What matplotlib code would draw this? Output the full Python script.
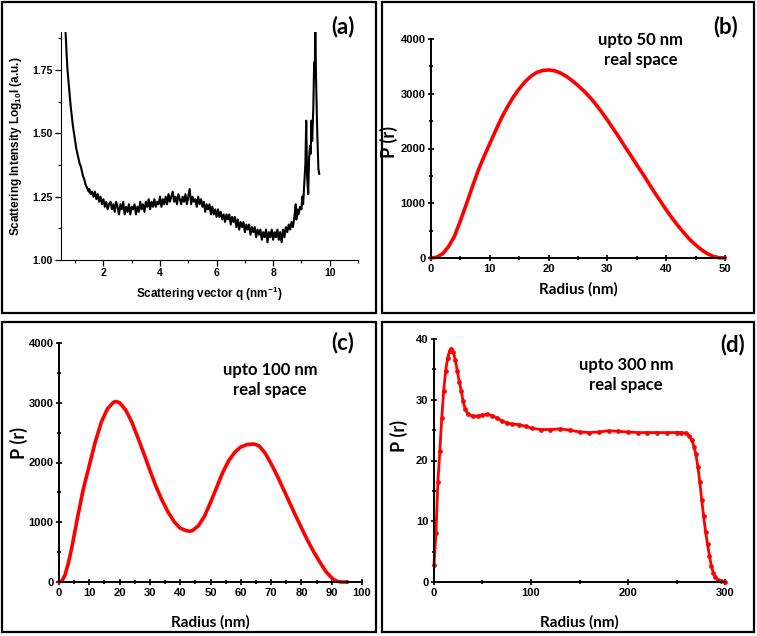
import numpy as np
import matplotlib.pyplot as plt
from matplotlib.patches import Rectangle
from matplotlib.ticker import MultipleLocator

plt.rcParams["mathtext.fontset"] = "custom"
plt.rcParams["mathtext.bf"] = "Liberation Sans:bold"
plt.rcParams["mathtext.rm"] = "Liberation Sans:bold"
plt.rcParams["mathtext.default"] = "bf"

# (a) SAXS profile: q [nm^-1] and log10 I
q_a = [0.66, 0.68, 0.70, 0.73, 0.76, 0.80, 0.84, 0.88, 0.92, 0.96,
       1.00, 1.04, 1.08, 1.12, 1.16, 1.20, 1.24, 1.28, 1.32, 1.36,
       1.40, 1.44, 1.48, 1.50, 1.55, 1.60, 1.65, 1.70, 1.75, 1.80,
       1.85, 1.90, 1.95, 2.00, 2.05, 2.10, 2.15, 2.20, 2.25, 2.30,
       2.35, 2.40, 2.45, 2.50, 2.55, 2.60, 2.65, 2.70, 2.75, 2.80,
       2.85, 2.90, 2.95, 3.00, 3.05, 3.10, 3.15, 3.20, 3.25, 3.30,
       3.35, 3.40, 3.45, 3.50, 3.55, 3.60, 3.65, 3.70, 3.75, 3.80,
       3.85, 3.90, 3.95, 4.00, 4.05, 4.10, 4.15, 4.20, 4.25, 4.30,
       4.35, 4.40, 4.45, 4.50, 4.55, 4.60, 4.65, 4.70, 4.75, 4.80,
       4.85, 4.90, 4.95, 5.00, 5.05, 5.10, 5.15, 5.20, 5.25, 5.30,
       5.35, 5.40, 5.45, 5.50, 5.55, 5.60, 5.65, 5.70, 5.75, 5.80,
       5.85, 5.90, 5.95, 6.00, 6.05, 6.10, 6.15, 6.20, 6.25, 6.30,
       6.35, 6.40, 6.45, 6.50, 6.55, 6.60, 6.65, 6.70, 6.75, 6.80,
       6.85, 6.90, 6.95, 7.00, 7.05, 7.10, 7.15, 7.20, 7.25, 7.30,
       7.35, 7.40, 7.45, 7.50, 7.55, 7.60, 7.65, 7.70, 7.75, 7.80,
       7.85, 7.90, 7.95, 8.00, 8.05, 8.10, 8.15, 8.20, 8.25, 8.30,
       8.35, 8.40, 8.45, 8.50, 8.55, 8.60, 8.65, 8.70, 8.75, 8.80,
       8.82, 8.85, 8.90, 8.95, 9.00, 9.03, 9.06, 9.10, 9.14, 9.17,
       9.20, 9.24, 9.27, 9.30, 9.33, 9.35, 9.38, 9.42, 9.45, 9.47,
       9.49, 9.52, 9.56, 9.60, 9.63]
logI_a = [1.90, 1.86, 1.81, 1.75, 1.71, 1.66, 1.61, 1.57, 1.53, 1.50,
          1.47, 1.44, 1.42, 1.40, 1.38, 1.37, 1.35, 1.33, 1.32, 1.30,
          1.29, 1.28, 1.27, 1.28, 1.26, 1.27, 1.25, 1.27, 1.24, 1.26,
          1.23, 1.25, 1.22, 1.24, 1.21, 1.23, 1.20, 1.22, 1.23, 1.20,
          1.22, 1.19, 1.23, 1.21, 1.18, 1.22, 1.20, 1.23, 1.18, 1.21,
          1.19, 1.22, 1.18, 1.21, 1.20, 1.22, 1.18, 1.21, 1.19, 1.23,
          1.20, 1.22, 1.19, 1.23, 1.21, 1.24, 1.20, 1.23, 1.21, 1.24,
          1.21, 1.23, 1.22, 1.25, 1.21, 1.24, 1.22, 1.25, 1.22, 1.26,
          1.23, 1.25, 1.27, 1.23, 1.25, 1.22, 1.26, 1.24, 1.22, 1.25,
          1.23, 1.26, 1.22, 1.25, 1.28, 1.22, 1.25, 1.23, 1.24, 1.21,
          1.25, 1.22, 1.24, 1.21, 1.23, 1.19, 1.22, 1.20, 1.22, 1.18,
          1.21, 1.18, 1.20, 1.17, 1.20, 1.17, 1.19, 1.16, 1.18, 1.15,
          1.18, 1.16, 1.18, 1.14, 1.17, 1.15, 1.17, 1.13, 1.16, 1.12,
          1.15, 1.13, 1.15, 1.11, 1.14, 1.12, 1.14, 1.10, 1.13, 1.11,
          1.13, 1.09, 1.12, 1.10, 1.12, 1.08, 1.11, 1.09, 1.12, 1.07,
          1.11, 1.09, 1.12, 1.08, 1.11, 1.09, 1.12, 1.08, 1.11, 1.07,
          1.12, 1.09, 1.13, 1.11, 1.14, 1.12, 1.15, 1.13, 1.17, 1.22,
          1.16, 1.20, 1.18, 1.21, 1.20, 1.25, 1.22, 1.30, 1.38, 1.55,
          1.33, 1.26, 1.40, 1.45, 1.42, 1.55, 1.47, 1.60, 1.78, 1.72,
          1.90, 1.70, 1.50, 1.36, 1.34]

# (b) P(r) up to 50 nm
r_b = [0, 1, 2, 3, 4, 5, 6, 7, 8, 9, 10, 11, 12, 13, 14, 15, 16, 17,
       18, 19, 20, 21, 22, 23, 24, 25, 26, 27, 28, 29, 30, 31, 32, 33,
       34, 35, 36, 37, 38, 39, 40, 41, 42, 43, 44, 45, 46, 47, 48, 49, 50]
p_b = [0, 15, 80, 210, 400, 680, 980, 1290, 1590, 1850, 2090, 2330,
       2560, 2760, 2940, 3090, 3220, 3320, 3390, 3425, 3435, 3420, 3380,
       3320, 3240, 3150, 3050, 2940, 2810, 2670, 2520, 2360, 2200, 2030,
       1870, 1700, 1540, 1370, 1200, 1040, 880, 730, 590, 460, 340, 240,
       150, 80, 30, 5, 0]

# (c) P(r) up to 100 nm
r_c = [0, 1, 2, 3, 4, 5, 6, 8, 10, 12, 14, 16, 18, 19, 20, 22, 24, 26,
       28, 30, 32, 34, 36, 38, 40, 42, 43, 44, 46, 48, 50, 52, 54, 56,
       58, 60, 62, 64, 65, 66, 68, 70, 72, 74, 76, 78, 80, 82, 84, 86,
       88, 90, 91, 92, 93, 94, 95]
p_c = [0, 20, 120, 300, 520, 780, 1050, 1550, 1950, 2350, 2680, 2900,
       3010, 3020, 3000, 2880, 2680, 2420, 2150, 1870, 1600, 1370, 1170,
       1010, 900, 860, 850, 860, 940, 1100, 1330, 1580, 1830, 2030, 2170,
       2260, 2300, 2310, 2300, 2280, 2160, 1980, 1780, 1560, 1340, 1120,
       910, 700, 510, 340, 180, 70, 30, 10, 0, 0, 0]

# (d) P(r) up to 300 nm
r_d = [0, 2, 4, 6, 8, 10, 12, 14, 16, 18, 20, 22, 24, 26, 28, 30, 32, 35,
       40, 45, 50, 55, 60, 65, 70, 75, 80, 88, 95, 101, 110, 120, 130,
       140, 150, 160, 170, 180, 190, 200, 210, 220, 230, 240, 250, 255,
       260, 263, 266, 268, 270, 272, 274, 276, 278, 280, 282, 284, 286,
       288, 290, 293, 296, 300]
p_d = [2.8, 8.0, 16.5, 21.5, 27.0, 31.5, 34.8, 36.8, 38.0, 38.4, 37.8,
       36.5, 34.8, 33.0, 31.5, 29.8, 28.5, 27.6, 27.3, 27.3, 27.5, 27.6,
       27.4, 27.0, 26.5, 26.2, 26.0, 25.9, 25.6, 25.3, 25.1, 25.1, 25.2,
       25.0, 24.7, 24.6, 24.7, 24.9, 24.8, 24.7, 24.6, 24.6, 24.6, 24.6,
       24.6, 24.6, 24.5, 24.1, 23.3, 22.3, 21.0, 19.0, 16.5, 13.5, 10.8,
       8.3, 6.2, 4.3, 2.6, 1.5, 0.8, 0.3, 0.1, 0.0]

W, H = 757, 636
fig = plt.figure(figsize=(W / 100, H / 100), dpi=100)

narrow = ["Liberation Sans Narrow", "Liberation Sans", "DejaVu Sans"]
arial = ["Liberation Sans", "DejaVu Sans"]
calibri = ["Lato", "DejaVu Sans"]


def px_axes(x0, x1, y_top, y_bot):
    return fig.add_axes([x0 / W, 1 - y_bot / H, (x1 - x0) / W, (y_bot - y_top) / H])


def frame(x0, y0, x1, y1):
    fig.add_artist(Rectangle((x0 / W, 1 - y1 / H), (x1 - x0) / W, (y1 - y0) / H,
                             transform=fig.transFigure, fill=False,
                             edgecolor="black", lw=1.6))


def style_pr(ax, xmax, xmaj, xmin, ymax, ymaj, ymin, ylab_xy, xlab_y):
    for s in ("top", "right"):
        ax.spines[s].set_visible(False)
    for s in ("left", "bottom"):
        ax.spines[s].set_linewidth(1.4)
    ax.set_xlim(0, xmax)
    ax.set_ylim(0, ymax)
    ax.xaxis.set_major_locator(MultipleLocator(xmaj))
    ax.xaxis.set_minor_locator(MultipleLocator(xmin))
    ax.yaxis.set_major_locator(MultipleLocator(ymaj))
    ax.yaxis.set_minor_locator(MultipleLocator(ymin))
    ax.tick_params(which="both", direction="inout", width=1.2, pad=1.5)
    ax.tick_params(which="major", length=5)
    ax.tick_params(which="minor", length=3)
    for lab in ax.get_xticklabels() + ax.get_yticklabels():
        lab.set_family(narrow)
        lab.set_fontweight("bold")
        lab.set_fontsize(8)
    ax.set_xlabel("Radius (nm)", family=calibri, fontweight="bold", fontsize=11)
    ax.set_ylabel("P (r)", family=calibri, fontweight="bold", fontsize=13)
    ax.yaxis.set_label_coords(*ylab_xy)
    ax.xaxis.set_label_coords(0.5, xlab_y)


def note(x, y, text, size):
    fig.text(x / W, 1 - y / H, text, family=calibri, fontweight="bold",
             fontsize=size, ha="center", va="center", linespacing=1.35)


# panel frames
frame(2, 2, 376, 313)
frame(382, 2, 754, 313)
frame(2, 322, 376, 632)
frame(382, 322, 754, 632)

# (a)
ax_a = px_axes(61, 358, 32, 260)
ax_a.plot(q_a, logI_a, color="black", lw=1.5)
ax_a.set_xlim(0.5, 11)
ax_a.set_ylim(1.0, 1.9)
ax_a.xaxis.set_major_locator(MultipleLocator(2))
ax_a.xaxis.set_minor_locator(MultipleLocator(1))
ax_a.set_yticks([1.0, 1.25, 1.5, 1.75])
ax_a.yaxis.set_minor_locator(MultipleLocator(0.125))
ax_a.set_yticklabels(["1.00", "1.25", "1.50", "1.75"])
for s in ("top", "right"):
    ax_a.spines[s].set_visible(False)
ax_a.tick_params(which="both", direction="out", width=0.9, pad=2)
ax_a.tick_params(which="major", length=4)
ax_a.tick_params(which="minor", length=2.5)
for lab in ax_a.get_xticklabels() + ax_a.get_yticklabels():
    lab.set_family(arial)
    lab.set_fontweight("bold")
    lab.set_fontsize(7.5)
ax_a.set_xlabel("Scattering vector q (nm$^{-1}$)", family=arial,
                fontweight="bold", fontsize=8.5, labelpad=5)
ax_a.set_ylabel("Scattering Intensity Log$_{10}$I (a.u.)", family=arial,
                fontweight="bold", fontsize=8.5, labelpad=6)
note(343, 27, "(a)", 16)

# (b)
ax_b = px_axes(431, 725, 39, 258)
ax_b.plot(r_b, p_b, color="red", lw=2.6, clip_on=False)
style_pr(ax_b, 50, 10, 5, 4000, 1000, 500, (-0.112, 0.53), -0.112)
note(726, 27, "(b)", 16)
note(641, 50, "upto 50 nm\nreal space", 12)

# (c)
ax_c = px_axes(59, 362, 343, 582)
ax_c.plot(r_c, p_c, color="red", lw=2.6, clip_on=False)
style_pr(ax_c, 100, 10, 5, 4000, 1000, 500, (-0.102, 0.58), -0.14)
note(343, 343, "(c)", 16)
note(270, 380, "upto 100 nm\nreal space", 12)

# (d)
ax_d = px_axes(434, 725, 339, 582)
ax_d.plot(r_d, p_d, color="red", lw=2.0, marker="o", markersize=2.4,
          clip_on=False)
style_pr(ax_d, 300, 100, 50, 40, 10, 5, (-0.089, 0.6), -0.135)
note(733, 345, "(d)", 16)
note(626, 375, "upto 300 nm\nreal space", 12)

fig.savefig("out.png", dpi=100)
